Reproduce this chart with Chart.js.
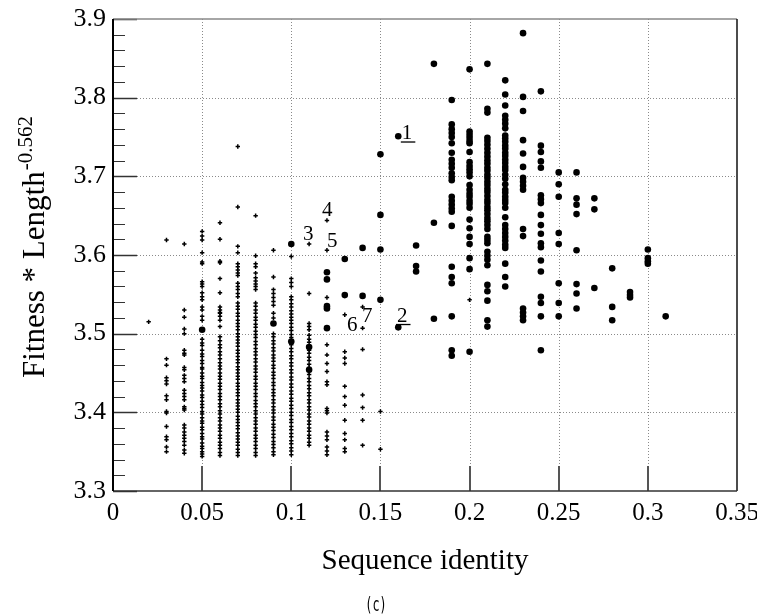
<!DOCTYPE html>
<html>
<head>
<meta charset="utf-8">
<script src="https://cdn.jsdelivr.net/npm/chart.js@4.4.1/dist/chart.umd.min.js"></script>
<style>
  html, body { margin: 0; padding: 0; background: #fff; }
  #wrap { width: 757px; height: 615px; }
</style>
</head>
<body>
<div id="wrap"><canvas id="c" width="757" height="615"></canvas></div>
<script>
// columns of small "+" marks (x = sequence identity, values = fitness)
const smallX = [0.02, 0.03, 0.04, 0.05, 0.06, 0.07, 0.08, 0.09, 0.10, 0.11, 0.12, 0.13, 0.14, 0.15, 0.20];
const smallY = [
  [3.515],
  [3.619, 3.468, 3.460, 3.444, 3.440, 3.436, 3.421, 3.416, 3.401, 3.399, 3.382, 3.369, 3.365, 3.356, 3.350],
  [3.614, 3.530, 3.521, 3.506, 3.500, 3.479, 3.475, 3.473, 3.457, 3.454, 3.447, 3.443, 3.439, 3.428, 3.424,
   3.420, 3.416, 3.407, 3.405, 3.403, 3.384, 3.380, 3.375, 3.371, 3.367, 3.363, 3.358, 3.352, 3.348],
  [3.630, 3.624, 3.619, 3.603, 3.591, 3.589, 3.566, 3.563, 3.560, 3.552, 3.547, 3.543, 3.534, 3.530, 3.522,
   3.517, 3.493, 3.488, 3.485, 3.479, 3.474, 3.471, 3.466, 3.462, 3.457, 3.455, 3.450, 3.446, 3.443, 3.438,
   3.434, 3.431, 3.427, 3.422, 3.419, 3.414, 3.410, 3.406, 3.401, 3.398, 3.393, 3.389, 3.386, 3.381, 3.378,
   3.373, 3.369, 3.366, 3.361, 3.357, 3.354, 3.350, 3.347, 3.344],
  [3.641, 3.620, 3.592, 3.590, 3.570, 3.552, 3.534, 3.530, 3.527, 3.526, 3.522, 3.517, 3.509, 3.496, 3.491,
   3.486, 3.482, 3.477, 3.473, 3.468, 3.463, 3.459, 3.455, 3.450, 3.446, 3.442, 3.437, 3.433, 3.429, 3.424,
   3.420, 3.416, 3.411, 3.407, 3.402, 3.398, 3.393, 3.389, 3.384, 3.380, 3.376, 3.371, 3.367, 3.362, 3.358,
   3.354, 3.349, 3.345],
  [3.738, 3.661, 3.611, 3.603, 3.589, 3.585, 3.581, 3.577, 3.574, 3.564, 3.560, 3.556, 3.551, 3.547, 3.539,
   3.535, 3.531, 3.526, 3.522, 3.517, 3.513, 3.509, 3.505, 3.500, 3.496, 3.492, 3.488, 3.484, 3.479, 3.475,
   3.471, 3.467, 3.463, 3.458, 3.454, 3.450, 3.446, 3.442, 3.437, 3.433, 3.429, 3.425, 3.421, 3.416, 3.412,
   3.408, 3.404, 3.400, 3.395, 3.391, 3.387, 3.383, 3.379, 3.374, 3.370, 3.366, 3.362, 3.358, 3.353, 3.349, 3.345],
  [3.650, 3.599, 3.589, 3.585, 3.577, 3.571, 3.567, 3.563, 3.560, 3.556, 3.539, 3.535, 3.530, 3.526, 3.521,
   3.517, 3.512, 3.508, 3.503, 3.499, 3.495, 3.490, 3.486, 3.481, 3.477, 3.473, 3.468, 3.464, 3.459, 3.455,
   3.451, 3.446, 3.442, 3.437, 3.433, 3.429, 3.424, 3.420, 3.415, 3.411, 3.407, 3.402, 3.398, 3.393, 3.389,
   3.385, 3.380, 3.376, 3.371, 3.367, 3.363, 3.358, 3.354, 3.349, 3.345],
  [3.606, 3.572, 3.556, 3.551, 3.546, 3.541, 3.536, 3.526, 3.520, 3.500, 3.496, 3.491, 3.487, 3.482, 3.478,
   3.473, 3.469, 3.465, 3.460, 3.456, 3.451, 3.447, 3.443, 3.438, 3.434, 3.429, 3.425, 3.421, 3.416, 3.412,
   3.407, 3.403, 3.399, 3.394, 3.390, 3.385, 3.381, 3.377, 3.372, 3.368, 3.363, 3.359, 3.355, 3.350, 3.346],
  [3.598, 3.570, 3.565, 3.560, 3.547, 3.543, 3.538, 3.534, 3.529, 3.525, 3.521, 3.517, 3.513, 3.508, 3.504,
   3.499, 3.495, 3.490, 3.486, 3.481, 3.477, 3.472, 3.468, 3.463, 3.459, 3.454, 3.450, 3.445, 3.441, 3.436,
   3.432, 3.427, 3.423, 3.418, 3.414, 3.409, 3.405, 3.400, 3.396, 3.391, 3.387, 3.382, 3.378, 3.373, 3.369,
   3.364, 3.360, 3.355, 3.351, 3.346],
  [3.614, 3.551, 3.513, 3.509, 3.505, 3.498, 3.493, 3.489, 3.484, 3.479, 3.475, 3.470, 3.466, 3.461, 3.457,
   3.452, 3.448, 3.443, 3.439, 3.434, 3.430, 3.425, 3.421, 3.416, 3.412, 3.407, 3.403, 3.398, 3.394, 3.389,
   3.385, 3.380, 3.376, 3.371, 3.367, 3.362, 3.358],
  [3.644, 3.606, 3.546, 3.486, 3.473, 3.462, 3.452, 3.439, 3.435, 3.405, 3.402, 3.399, 3.375, 3.370, 3.365,
   3.356, 3.351, 3.346],
  [3.524, 3.477, 3.469, 3.462, 3.433, 3.420, 3.409, 3.390, 3.373, 3.365, 3.354, 3.350],
  [3.534, 3.507, 3.480, 3.422, 3.406, 3.390, 3.358],
  [3.401, 3.353],
  [3.543]
];

// columns of large dots
const bigX = [0.05, 0.09, 0.10, 0.11, 0.12, 0.13, 0.14, 0.15, 0.16, 0.17, 0.18, 0.19, 0.20, 0.21, 0.22,
  0.23, 0.24, 0.25, 0.26, 0.27, 0.28, 0.29, 0.30, 0.31];
const bigY = [
  [3.505],
  [3.513],
  [3.614, 3.490],
  [3.483, 3.454],
  [3.578, 3.569, 3.535, 3.532, 3.507],
  [3.595, 3.549],
  [3.609, 3.548],
  [3.728, 3.651, 3.607, 3.543],
  [3.751, 3.508],
  [3.612, 3.586, 3.579],
  [3.843, 3.641, 3.519],
  [3.797, 3.766, 3.760, 3.755, 3.750, 3.742, 3.730, 3.721, 3.716, 3.711, 3.704, 3.699, 3.695, 3.674, 3.669,
   3.664, 3.659, 3.655, 3.637, 3.585, 3.572, 3.564, 3.522, 3.479, 3.472],
  [3.836, 3.757, 3.753, 3.749, 3.745, 3.742, 3.731, 3.718, 3.713, 3.709, 3.705, 3.700, 3.689, 3.683, 3.678,
   3.674, 3.669, 3.665, 3.660, 3.645, 3.634, 3.623, 3.614, 3.596, 3.582, 3.477],
  [3.843, 3.786, 3.781, 3.749, 3.745, 3.740, 3.735, 3.730, 3.725, 3.720, 3.716, 3.711, 3.707, 3.702, 3.698,
   3.693, 3.689, 3.684, 3.680, 3.675, 3.670, 3.666, 3.661, 3.657, 3.652, 3.647, 3.643, 3.638, 3.633, 3.623,
   3.619, 3.615, 3.604, 3.599, 3.594, 3.587, 3.562, 3.554, 3.542, 3.517, 3.509],
  [3.822, 3.804, 3.790, 3.777, 3.772, 3.767, 3.761, 3.752, 3.748, 3.744, 3.739, 3.735, 3.730, 3.726, 3.721,
   3.717, 3.712, 3.708, 3.702, 3.697, 3.690, 3.683, 3.679, 3.674, 3.670, 3.666, 3.660, 3.648, 3.638, 3.633,
   3.628, 3.623, 3.618, 3.613, 3.609, 3.589, 3.572, 3.560],
  [3.882, 3.801, 3.783, 3.746, 3.729, 3.712, 3.698, 3.693, 3.688, 3.683, 3.633, 3.624, 3.532, 3.527, 3.522, 3.517],
  [3.808, 3.739, 3.731, 3.719, 3.711, 3.676, 3.671, 3.666, 3.651, 3.638, 3.627, 3.615, 3.610, 3.593, 3.579,
   3.547, 3.539, 3.522, 3.479],
  [3.705, 3.690, 3.674, 3.628, 3.614, 3.564, 3.539, 3.522],
  [3.705, 3.672, 3.664, 3.652, 3.606, 3.563, 3.551, 3.532],
  [3.672, 3.658, 3.558],
  [3.583, 3.534, 3.517],
  [3.553, 3.549, 3.546],
  [3.607, 3.596, 3.592, 3.589],
  [3.522]
];

const xTickLabels = ['0', '0.05', '0.1', '0.15', '0.2', '0.25', '0.3', '0.35'];
const yTickLabels = ['3.3', '3.4', '3.5', '3.6', '3.7', '3.8', '3.9'];

// numbered notes beside some points (text, x, y of baseline, underlined?)
const noteText = ['1', '2', '3', '4', '5', '6', '7'];
const noteX = [0.162, 0.1593, 0.1066, 0.1172, 0.120, 0.1312, 0.1397];
const noteY = [3.747, 3.515, 3.619, 3.650, 3.610, 3.503, 3.515];
const noteUnder = [true, true, false, false, false, false, false];

const SERIF = '"Liberation Serif", "Times New Roman", serif';

function toPoints(xs, ys) {
  const pts = [];
  xs.forEach((x, i) => ys[i].forEach(y => pts.push({ x: x, y: y })));
  return pts;
}

// grid, frame, inside ticks, notes and titles are drawn by hand
const decorPlugin = {
  id: 'decor',
  beforeDatasetsDraw(chart) {
    const { ctx, chartArea: a, scales: { x, y } } = chart;
    ctx.save();
    ctx.strokeStyle = '#8a8a8a';
    ctx.lineWidth = 1;
    ctx.setLineDash([1, 2]);
    for (let v = 0.05; v < 0.349; v += 0.05) {
      const px = Math.round(x.getPixelForValue(v)) + 0.5;
      ctx.beginPath(); ctx.moveTo(px, a.top); ctx.lineTo(px, a.bottom); ctx.stroke();
    }
    for (let v = 3.4; v < 3.89; v += 0.1) {
      const py = Math.round(y.getPixelForValue(v)) + 0.5;
      ctx.beginPath(); ctx.moveTo(a.left, py); ctx.lineTo(a.right, py); ctx.stroke();
    }
    ctx.restore();
  },
  afterDraw(chart) {
    const { ctx, chartArea: a, scales: { x, y } } = chart;
    ctx.save();
    ctx.setLineDash([]);

    // y ticks, pointing into the plot
    ctx.strokeStyle = '#333';
    for (let i = 0; i <= 30; i++) {
      const py = Math.round(y.getPixelForValue(3.3 + i * 0.02)) + 0.5;
      const major = i % 5 === 0;
      ctx.lineWidth = major ? 1.5 : 1;
      ctx.beginPath(); ctx.moveTo(a.left, py); ctx.lineTo(a.left + (major ? 24 : 12), py); ctx.stroke();
    }
    // x ticks
    ctx.strokeStyle = '#555';
    ctx.lineWidth = 2;
    for (let v = 0.05; v < 0.349; v += 0.05) {
      const px = Math.round(x.getPixelForValue(v));
      ctx.beginPath(); ctx.moveTo(px, a.bottom); ctx.lineTo(px, a.bottom - 25); ctx.stroke();
    }

    // frame
    ctx.lineWidth = 1.5;
    ctx.strokeStyle = '#888';
    ctx.beginPath(); ctx.moveTo(a.left, a.top); ctx.lineTo(a.right, a.top); ctx.stroke();
    ctx.strokeStyle = '#111';
    ctx.beginPath(); ctx.moveTo(a.right, a.top); ctx.lineTo(a.right, a.bottom); ctx.stroke();
    ctx.strokeStyle = '#333';
    ctx.beginPath(); ctx.moveTo(a.left, a.bottom); ctx.lineTo(a.right, a.bottom); ctx.stroke();
    ctx.lineWidth = 2;
    ctx.strokeStyle = '#000';
    ctx.beginPath(); ctx.moveTo(a.left, a.top); ctx.lineTo(a.left, a.bottom); ctx.stroke();

    // notes
    ctx.fillStyle = '#000';
    ctx.font = '21px ' + SERIF;
    ctx.textAlign = 'left';
    ctx.textBaseline = 'alphabetic';
    noteText.forEach((t, i) => {
      const px = x.getPixelForValue(noteX[i]);
      const py = y.getPixelForValue(noteY[i]);
      ctx.fillText(t, px, py);
      if (noteUnder[i]) {
        const w = ctx.measureText(t).width;
        ctx.fillRect(px - 1, py + 2, w + 4, 1.3);
      }
    });

    // x title
    ctx.font = '29px ' + SERIF;
    ctx.textAlign = 'center';
    ctx.fillText('Sequence identity', 425, 569);

    // y title with superscript
    ctx.save();
    ctx.translate(44, 378);
    ctx.rotate(-Math.PI / 2);
    ctx.textAlign = 'left';
    ctx.font = '31px ' + SERIF;
    const main = 'Fitness * Length';
    ctx.fillText(main, 0, 0);
    const mw = ctx.measureText(main).width;
    ctx.font = '21px ' + SERIF;
    ctx.fillText('-0.562', mw + 1, -12);
    ctx.restore();

    // panel label
    ctx.save();
    ctx.translate(376, 611);
    ctx.scale(0.62, 1);
    ctx.font = '19px "DejaVu Sans Mono", monospace';
    ctx.textAlign = 'center';
    ctx.fillText('(c)', 0, 0);
    ctx.restore();

    ctx.restore();
  }
};

new Chart(document.getElementById('c'), {
  type: 'scatter',
  data: {
    datasets: [
      {
        label: 'small',
        data: toPoints(smallX, smallY),
        pointStyle: 'cross',
        pointRadius: 2.2,
        borderWidth: 1.5,
        borderColor: '#000',
        backgroundColor: '#000'
      },
      {
        label: 'large',
        data: toPoints(bigX, bigY),
        pointStyle: 'circle',
        pointRadius: 3.3,
        borderWidth: 0,
        backgroundColor: '#000'
      }
    ]
  },
  options: {
    responsive: false,
    animation: false,
    layout: { padding: { top: 19, right: 20, left: 0, bottom: 0 } },
    plugins: { legend: { display: false }, tooltip: { enabled: false } },
    scales: {
      x: {
        type: 'linear',
        min: 0,
        max: 0.35,
        afterFit: s => { s.height = 124; s.paddingLeft = 0; s.paddingRight = 0; },
        afterBuildTicks: s => { s.ticks = xTickLabels.map((t, i) => ({ value: i * 0.05 })); },
        grid: { display: false, drawTicks: false },
        border: { display: false },
        ticks: {
          padding: 7,
          maxRotation: 0,
          color: '#000',
          font: { family: SERIF, size: 25 },
          callback: (v, i) => xTickLabels[i]
        }
      },
      y: {
        type: 'linear',
        min: 3.3,
        max: 3.9,
        afterFit: s => { s.width = 113; s.paddingTop = 0; s.paddingBottom = 0; },
        afterBuildTicks: s => { s.ticks = yTickLabels.map((t, i) => ({ value: 3.3 + i * 0.1 })); },
        grid: { display: false, drawTicks: false },
        border: { display: false },
        ticks: {
          padding: 7,
          color: '#000',
          font: { family: SERIF, size: 26 },
          callback: (v, i) => yTickLabels[i]
        }
      }
    }
  },
  plugins: [decorPlugin]
});
</script>
</body>
</html>
